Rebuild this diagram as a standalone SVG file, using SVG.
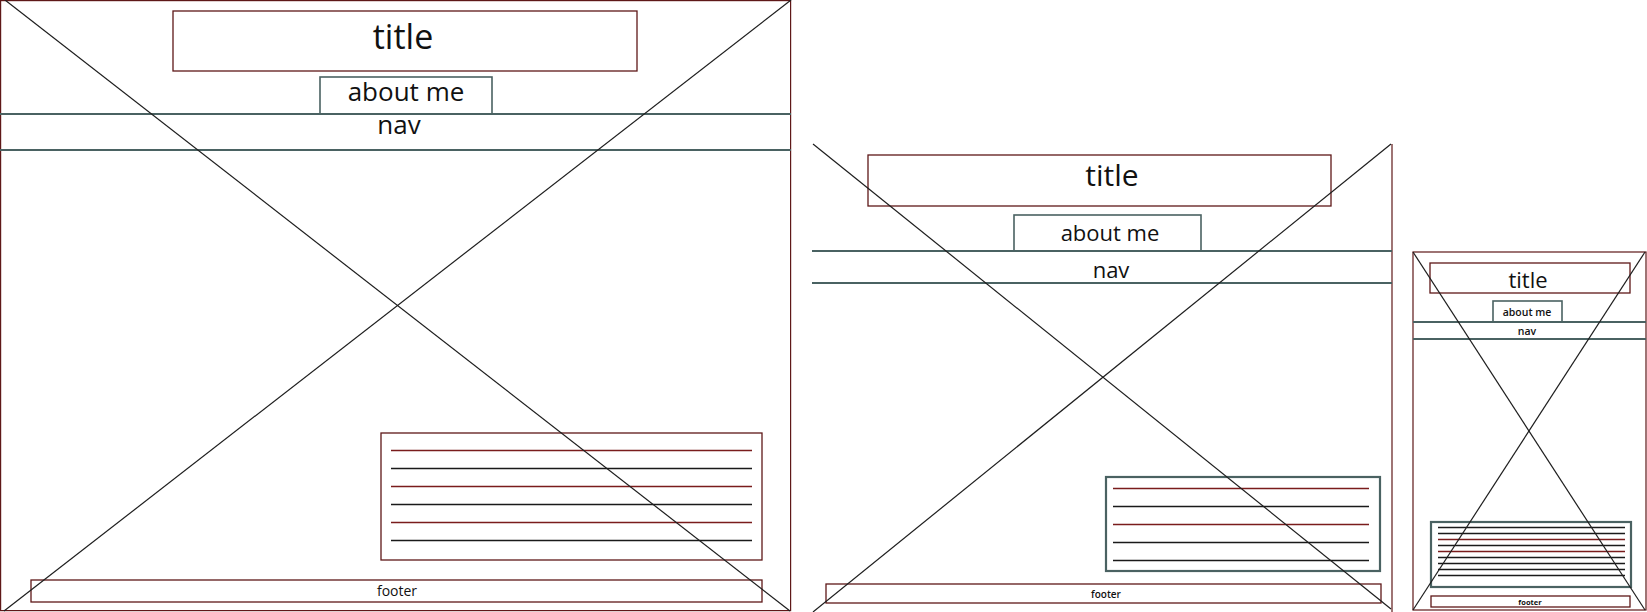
<svg xmlns="http://www.w3.org/2000/svg" width="1647" height="612" viewBox="0 0 1647 612">
<style>
.bg{fill:#ffffff}
.fr{fill:none;stroke:#5e1818;stroke-width:1.2}
.rb{fill:none;stroke:#5e1818;stroke-width:1.3}
.tb{fill:none;stroke:#4a6262;stroke-width:1.6}
.tb2{fill:none;stroke:#4a6262;stroke-width:2.2}
.nv{stroke:#4a6262;stroke-width:1.8}
.x{stroke:#1e1e1e;stroke-width:1.2}
.lr{stroke:#7a1c1c;stroke-width:1.3}
.lk{stroke:#1a1a1a;stroke-width:1.3}
.t{font-family:"Open Sans","Noto Sans","Liberation Sans",sans-serif;fill:#111;text-anchor:middle}
.f{font-family:"Open Sans","Liberation Sans",sans-serif;fill:#111;text-anchor:middle;font-weight:600}
</style>
<rect class="bg" x="0" y="0" width="1647" height="612"/>

<!-- Panel 1 (desktop) -->
<g id="desktop">
  <g id="d-frame"><rect class="fr" x="0.6" y="0.6" width="790" height="610"/></g>
  <g id="d-title"><rect class="rb" x="173" y="11" width="464" height="60"/><text class="t" x="403" y="49" font-size="34">title</text></g>
  <g id="d-about"><rect class="tb" x="320" y="77" width="172" height="37"/><text class="t" x="406" y="101" font-size="26">about me</text></g>
  <g id="d-nav"><line class="nv" x1="0" y1="114" x2="791" y2="114"/><line class="nv" x1="0" y1="150" x2="791" y2="150"/><text class="t" x="399" y="134" font-size="26">nav</text></g>
  <g id="d-content">
    <rect class="rb" x="381" y="433" width="381" height="127"/>
    <line class="lr" x1="391" y1="450.5" x2="752" y2="450.5"/>
    <line class="lk" x1="391" y1="468.5" x2="752" y2="468.5"/>
    <line class="lr" x1="391" y1="486.5" x2="752" y2="486.5"/>
    <line class="lk" x1="391" y1="504.5" x2="752" y2="504.5"/>
    <line class="lr" x1="391" y1="522.5" x2="752" y2="522.5"/>
    <line class="lk" x1="391" y1="540.5" x2="752" y2="540.5"/>
  </g>
  <g id="d-footer"><rect class="rb" x="31" y="580" width="731" height="22"/><text class="t" x="397" y="596" font-size="14" style="font-weight:500">footer</text></g>
</g>

<!-- Panel 2 (tablet) -->
<g id="tablet">
  <g id="t-frame"><line class="fr" x1="1392" y1="144" x2="1392" y2="612"/></g>
  <g id="t-title"><rect class="rb" x="868" y="155" width="463" height="51"/><text class="t" x="1112" y="186" font-size="30">title</text></g>
  <g id="t-about"><rect class="tb" x="1014" y="215" width="187" height="36"/><text class="t" x="1110" y="241" font-size="22">about me</text></g>
  <g id="t-nav"><line class="nv" x1="812" y1="251" x2="1392" y2="251"/><line class="nv" x1="812" y1="283" x2="1392" y2="283"/><text class="t" x="1111" y="278" font-size="22">nav</text></g>
  <g id="t-content">
    <rect class="tb2" x="1106" y="477" width="274" height="94"/>
    <line class="lr" x1="1113" y1="488.5" x2="1369" y2="488.5"/>
    <line class="lk" x1="1113" y1="506.5" x2="1369" y2="506.5"/>
    <line class="lr" x1="1113" y1="524.5" x2="1369" y2="524.5"/>
    <line class="lk" x1="1113" y1="542.5" x2="1369" y2="542.5"/>
    <line class="lk" x1="1113" y1="560.5" x2="1369" y2="560.5"/>
  </g>
  <g id="t-footer"><rect class="rb" x="826" y="584" width="555" height="19"/><text class="f" x="1106" y="598" font-size="10">footer</text></g>
</g>

<!-- Panel 3 (mobile) -->
<g id="mobile">
  <g id="m-frame"><rect class="fr" x="1413" y="252" width="233" height="358"/></g>
  <g id="m-title"><rect class="rb" x="1430" y="263" width="200" height="30"/><text class="t" x="1528" y="288" font-size="22">title</text></g>
  <g id="m-about"><rect class="tb" x="1493" y="301" width="69" height="21"/><text class="f" x="1527" y="315.5" font-size="10.5">about me</text></g>
  <g id="m-nav"><line class="nv" x1="1413" y1="322" x2="1646" y2="322"/><line class="nv" x1="1413" y1="339" x2="1646" y2="339"/><text class="f" x="1527" y="335" font-size="10.5">nav</text></g>
  <g id="m-content">
    <rect class="tb2" x="1431" y="522" width="200" height="65"/>
    <line class="lk" x1="1438" y1="527.5" x2="1625" y2="527.5"/>
    <line class="lk" x1="1438" y1="533.5" x2="1625" y2="533.5"/>
    <line class="lr" x1="1438" y1="539.5" x2="1625" y2="539.5"/>
    <line class="lk" x1="1438" y1="545.5" x2="1625" y2="545.5"/>
    <line class="lr" x1="1438" y1="551.5" x2="1625" y2="551.5"/>
    <line class="lk" x1="1438" y1="557.5" x2="1625" y2="557.5"/>
    <line class="lk" x1="1438" y1="563.5" x2="1625" y2="563.5"/>
    <line class="lk" x1="1438" y1="569.5" x2="1625" y2="569.5"/>
    <line class="lk" x1="1438" y1="575.5" x2="1625" y2="575.5"/>
  </g>
  <g id="m-footer"><rect class="rb" x="1431" y="596" width="199" height="11"/><text class="f" x="1530" y="604.5" font-size="7.5" style="font-weight:700">footer</text></g>
</g>

<!-- cross lines -->
<g id="connectors">
  <line class="x" x1="5" y1="0" x2="790" y2="611"/>
  <line class="x" x1="791" y1="0" x2="4" y2="611"/>
  <line class="x" x1="813" y1="144" x2="1391" y2="609"/>
  <line class="x" x1="1391" y1="144" x2="813" y2="612"/>
  <line class="x" x1="1413" y1="252" x2="1645" y2="610"/>
  <line class="x" x1="1645" y1="252" x2="1413" y2="610"/>
</g>
</svg>
